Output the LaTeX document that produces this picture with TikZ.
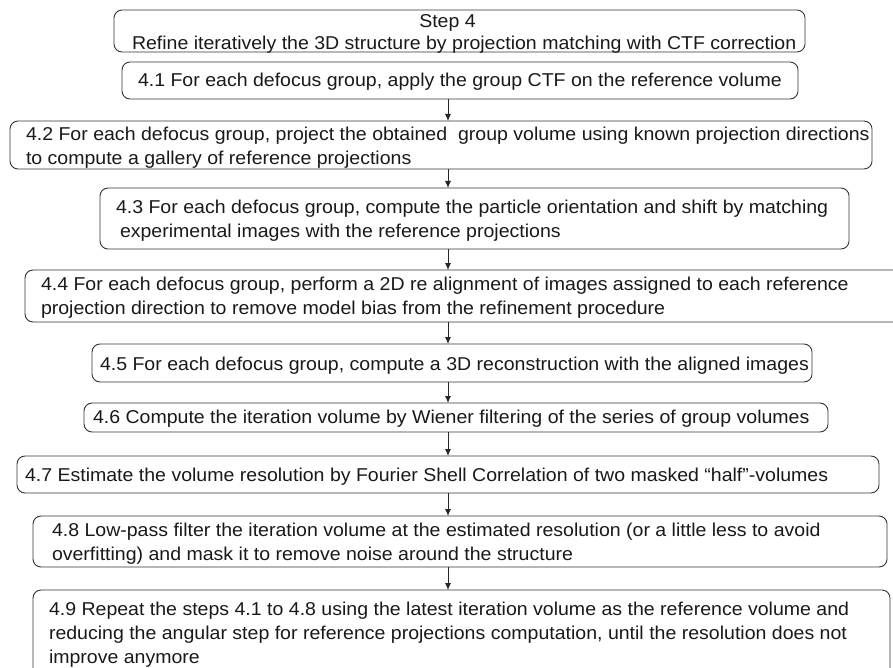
\documentclass[tikz,border=0pt]{standalone}
\usepackage{fontspec}
\setmainfont{Liberation Sans}[FakeStretch=1.05]
\usetikzlibrary{arrows.meta}
\begin{document}
\begin{tikzpicture}[x=1pt,y=-1pt,
  box/.style={draw=black!80, line width=0.9pt, rounded corners=8pt, rectangle, inner sep=0pt, outer sep=0pt},
  txt/.style={inner sep=0pt, outer sep=0pt, align=left, text=black!90, font=\fontsize{18.6}{24}\selectfont},
  arr/.style={draw=black!85, line width=0.9pt, -{Latex[length=7pt,width=6pt]}}]
\useasboundingbox (0,0) rectangle (893,668);
% boxes
\node[box, minimum width=691pt, minimum height=42pt] (b0) at (459.5,31) {};
\node[box, minimum width=676pt, minimum height=37pt] (b1) at (460,80.5) {};
\node[box, minimum width=862pt, minimum height=48pt] (b2) at (441,145) {};
\node[box, minimum width=749pt, minimum height=61pt] (b3) at (474.5,218.5) {};
\node[box, minimum width=880pt, minimum height=52pt] (b4) at (465,296) {};
\node[box, minimum width=720pt, minimum height=38pt] (b5) at (452,363) {};
\node[box, minimum width=744pt, minimum height=29pt] (b6) at (456,417.5) {};
\node[box, minimum width=862pt, minimum height=37pt] (b7) at (448,474.5) {};
\node[box, minimum width=854pt, minimum height=51pt] (b8) at (460,541.5) {};
\node[box, minimum width=857pt, minimum height=110pt] (b9) at (461.5,645) {};
% texts (base anchor of a multi-line node = baseline of its last line)
\node[txt, anchor=base] (t0a) at (447.5,28) {Step 4};
\node[txt, anchor=base west] (t0b) at (132,49.5) {Refine iteratively the 3D structure by projection matching with CTF correction};
\node[txt, anchor=base west] (t1) at (138,87) {4.1 For each defocus group, apply the group CTF on the reference volume};
\node[txt, anchor=base west] (t2) at (26,165) {4.2 For each defocus group, project the obtained\ \ group volume using known projection directions\\to compute a gallery of reference projections};
\node[txt, anchor=base west] (t3) at (116,237) {4.3 For each defocus group, compute the particle orientation and shift by matching\\\hspace*{4pt}experimental images with the reference projections};
\node[txt, anchor=base west] (t4) at (41,314.5) {4.4 For each defocus group, perform a 2D re alignment of images assigned to each reference\\projection direction to remove model bias from the refinement procedure};
\node[txt, anchor=base west] (t5) at (100,370) {4.5 For each defocus group, compute a 3D reconstruction with the aligned images};
\node[txt, anchor=base west] (t6) at (93,423.5) {4.6 Compute the iteration volume by Wiener filtering of the series of group volumes};
\node[txt, anchor=base west] (t7) at (25,481) {4.7 Estimate the volume resolution by Fourier Shell Correlation of two masked “half”-volumes};
\node[txt, anchor=base west] (t8) at (52,560) {4.8 Low-pass filter the iteration volume at the estimated resolution (or a little less to avoid\\overfitting) and mask it to remove noise around the structure};
\node[txt, anchor=base west] (t9) at (49,663) {4.9 Repeat the steps 4.1 to 4.8 using the latest iteration volume as the reference volume and\\reducing the angular step for reference projections computation, until the resolution does not\\improve anymore};
% connectors
\coordinate (ax) at (448,0);
\draw[arr] (b1.south -| ax) -- (b2.north -| ax);
\draw[arr] (b2.south -| ax) -- (b3.north -| ax);
\draw[arr] (b3.south -| ax) -- (b4.north -| ax);
\draw[arr] (b4.south -| ax) -- (b5.north -| ax);
\draw[arr] (b5.south -| ax) -- (b6.north -| ax);
\draw[arr] (b6.south -| ax) -- (b7.north -| ax);
\draw[arr] (b7.south -| ax) -- (b8.north -| ax);
\draw[arr] (b8.south -| ax) -- (b9.north -| ax);
\end{tikzpicture}
\end{document}
